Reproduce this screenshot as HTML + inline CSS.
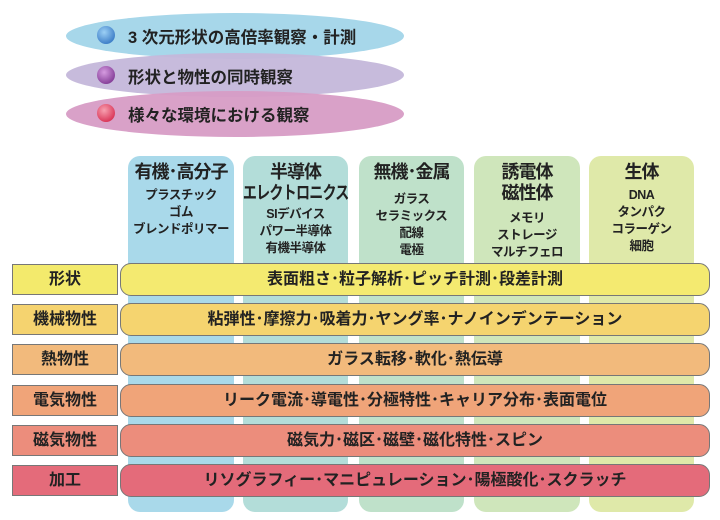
<!DOCTYPE html>
<html><head><meta charset="utf-8"><style>
body{margin:0;width:720px;height:520px;background:#fff;position:relative;overflow:hidden;font-family:"Liberation Sans","Noto Sans CJK JP",sans-serif;font-weight:bold;color:#222}
.col{position:absolute;top:156px;height:356px;border-radius:12px;text-align:center;white-space:nowrap}
.col .h{font-size:18px;line-height:21px;margin-top:6px;letter-spacing:-1px}
.col .s{font-size:12.5px;line-height:17px;margin-top:4px;letter-spacing:-0.5px}
.lab{position:absolute;left:12px;width:104px;height:29px;border:1.5px solid #777;text-align:center;font-size:16px;line-height:29px}
.bar{position:absolute;left:120px;width:588px;height:31px;border:1.5px solid #777;border-radius:11px;text-align:center;font-size:16px;line-height:31px}
.el{position:absolute;border-radius:50%}
.dot{position:absolute;width:18px;height:18px;border-radius:50%}
.et{position:absolute;font-size:16.5px}
</style></head><body>
<div class="el" style="left:66px;top:13px;width:338px;height:46px;background:#a7d7ea"></div>
<div class="el" style="left:66px;top:53px;width:338px;height:44px;background:#c4b7da;opacity:.95"></div>
<div class="el" style="left:66px;top:91px;width:338px;height:46px;background:#d79cc5;opacity:.95"></div>
<div class="dot" style="left:97px;top:26px;background:radial-gradient(circle at 40% 35%,#9cd0f5,#1d62b8)"></div>
<div class="et" style="left:128px;top:24px">3 次元形状の高倍率観察・計測</div>
<div class="dot" style="left:97px;top:66px;background:radial-gradient(circle at 40% 35%,#d59be0,#6a1f80)"></div>
<div class="et" style="left:128px;top:64px">形状と物性の同時観察</div>
<div class="dot" style="left:97px;top:104px;background:radial-gradient(circle at 40% 35%,#f7a0b0,#d0123a)"></div>
<div class="et" style="left:128px;top:102px">様々な環境における観察</div>

<div class="col" style="left:128px;width:106px;background:#a9d9ea"><div class="h">有機･高分子</div><div class="s">プラスチック<br>ゴム<br>ブレンドポリマー</div></div>
<div class="col" style="left:243px;width:105px;background:#b3ddd9"><div class="h">半導体<br><span style="display:inline-block;transform:scaleX(0.78);margin:0 -20px">エレクトロニクス</span></div><div class="s" style="margin-top:2px">SIデバイス<br>パワー半導体<br>有機半導体</div></div>
<div class="col" style="left:359px;width:105px;background:#bfe1ca"><div class="h">無機･金属</div><div class="s" style="margin-top:8px">ガラス<br>セラミックス<br>配線<br>電極</div></div>
<div class="col" style="left:474px;width:106px;background:#cfe6bb"><div class="h">誘電体<br>磁性体</div><div class="s" style="margin-top:6px">メモリ<br>ストレージ<br>マルチフェロ</div></div>
<div class="col" style="left:589px;width:105px;background:#dfe9a9"><div class="h">生体</div><div class="s">DNA<br>タンパク<br>コラーゲン<br>細胞</div></div>

<div class="lab" style="top:264px;background:#f3ea6c">形状</div>
<div class="bar" style="top:263px;background:#f4ea70">表面粗さ･粒子解析･ピッチ計測･段差計測</div>
<div class="lab" style="top:304px;background:#f5d36f">機械物性</div>
<div class="bar" style="top:303px;background:#f5d46f">粘弾性･摩擦力･吸着力･ヤング率･ナノインデンテーション</div>
<div class="lab" style="top:344px;background:#f2ba7c">熱物性</div>
<div class="bar" style="top:343px;background:#f2ba7c">ガラス転移･軟化･熱伝導</div>
<div class="lab" style="top:385px;background:#f0a479">電気物性</div>
<div class="bar" style="top:384px;background:#f0a479">リーク電流･導電性･分極特性･キャリア分布･表面電位</div>
<div class="lab" style="top:425px;background:#ec8d7c">磁気物性</div>
<div class="bar" style="top:424px;background:#ec8d7c">磁気力･磁区･磁壁･磁化特性･スピン</div>
<div class="lab" style="top:465px;background:#e46b7a">加工</div>
<div class="bar" style="top:464px;background:#e46b7a">リソグラフィー･マニピュレーション･陽極酸化･スクラッチ</div>
</body></html>
